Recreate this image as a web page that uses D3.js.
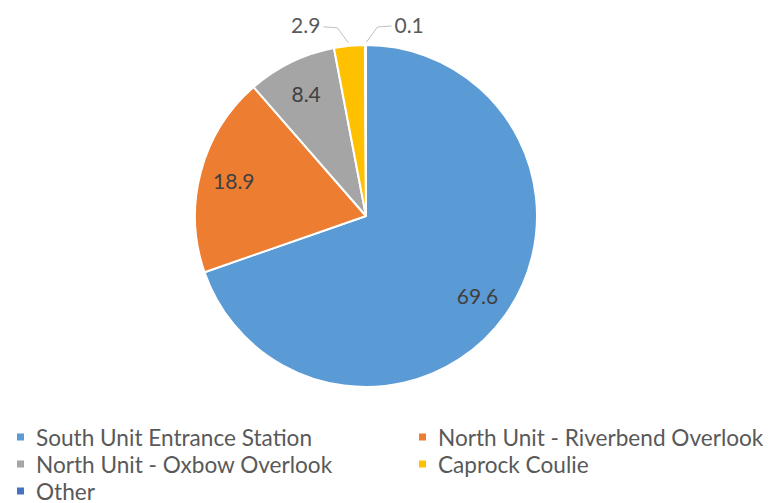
<!DOCTYPE html>
<html>
<head>
<meta charset="utf-8">
<script src="https://cdn.jsdelivr.net/npm/d3@7"></script>
<style>
  html, body { margin: 0; padding: 0; background: #ffffff; }
  svg { display: block; }
</style>
</head>
<body>
<svg id="chart" width="769" height="503"></svg>
<script>
// Share of visits by location (percent)
const categories = [
  "South Unit Entrance Station",
  "North Unit - Riverbend Overlook",
  "North Unit - Oxbow Overlook",
  "Caprock Coulie",
  "Other"
];
const values = [69.6, 18.9, 8.4, 2.9, 0.1];
const colors = ["#5B9BD5", "#ED7D31", "#A5A5A5", "#FFC000", "#4472C4"];
// labels for thin slices are drawn outside with a leader line
const outsideLabel = [false, false, false, true, true];

const svg = d3.select("#chart");
const cx = 366, cy = 216, R = 171;

const data = categories.map((c, i) => ({ name: c, value: values[i], color: colors[i], outside: outsideLabel[i] }));

const pie = d3.pie().value(d => d.value).sort(null);
const arcs = pie(data);
const arc = d3.arc().innerRadius(0).outerRadius(R);
const labelArc = d3.arc().innerRadius(R * 0.8).outerRadius(R * 0.8);
const edgeArc = d3.arc().innerRadius(R).outerRadius(R);

const g = svg.append("g").attr("transform", `translate(${cx},${cy})`);

g.selectAll("path.slice")
  .data(arcs)
  .join("path")
  .attr("class", "slice")
  .attr("d", arc)
  .attr("fill", d => d.data.color)
  .attr("stroke", "#ffffff")
  .attr("stroke-width", 2)
  .attr("stroke-linejoin", "round");

// inside labels
g.selectAll("text.inlabel")
  .data(arcs.filter(d => !d.data.outside))
  .join("text")
  .attr("class", "inlabel")
  .attr("x", d => labelArc.centroid(d)[0])
  .attr("y", d => labelArc.centroid(d)[1])
  .attr("text-anchor", "middle")
  .attr("dominant-baseline", "central")
  .attr("font-family", "Lato, 'Open Sans', sans-serif")
  .attr("font-size", 21)
  .attr("fill", "#404040")
  .text(d => d.data.value.toFixed(1));

// outside labels with leader lines
const outs = arcs.filter(d => d.data.outside);
outs.forEach((d, k) => {
  const p = edgeArc.centroid(d);
  const side = k === 0 ? -1 : 1;
  const elbow = [p[0] + side * 12, p[1] - 18];
  const end = [elbow[0] + side * 14, elbow[1] - 1];
  g.append("polyline")
    .attr("points", [[p[0] + side * 1, p[1] - 3], elbow, end].map(q => q.join(",")).join(" "))
    .attr("fill", "none")
    .attr("stroke", "#BFBFBF")
    .attr("stroke-width", 1);
  g.append("text")
    .attr("x", end[0] + side * 3)
    .attr("y", end[1] - 2)
    .attr("text-anchor", side < 0 ? "end" : "start")
    .attr("dominant-baseline", "central")
    .attr("font-family", "Lato, 'Open Sans', sans-serif")
    .attr("font-size", 21)
    .attr("fill", "#595959")
    .text(d.data.value.toFixed(1));
});

// legend: two columns, filled row by row
const legendX = [17, 419];
const legendY0 = 437, legendDy = 27;
const legend = svg.append("g");
data.forEach((d, i) => {
  const col = i % 2, row = Math.floor(i / 2);
  const x = legendX[col], y = legendY0 + row * legendDy;
  legend.append("rect")
    .attr("x", x).attr("y", y - 3.5)
    .attr("width", 7).attr("height", 7)
    .attr("fill", d.color);
  legend.append("text")
    .attr("x", x + 19).attr("y", y)
    .attr("dominant-baseline", "central")
    .attr("font-family", "Lato, 'Open Sans', sans-serif")
    .attr("font-size", 22.6)
    .attr("fill", "#595959")
    .text(d.name);
});
</script>
</body>
</html>
